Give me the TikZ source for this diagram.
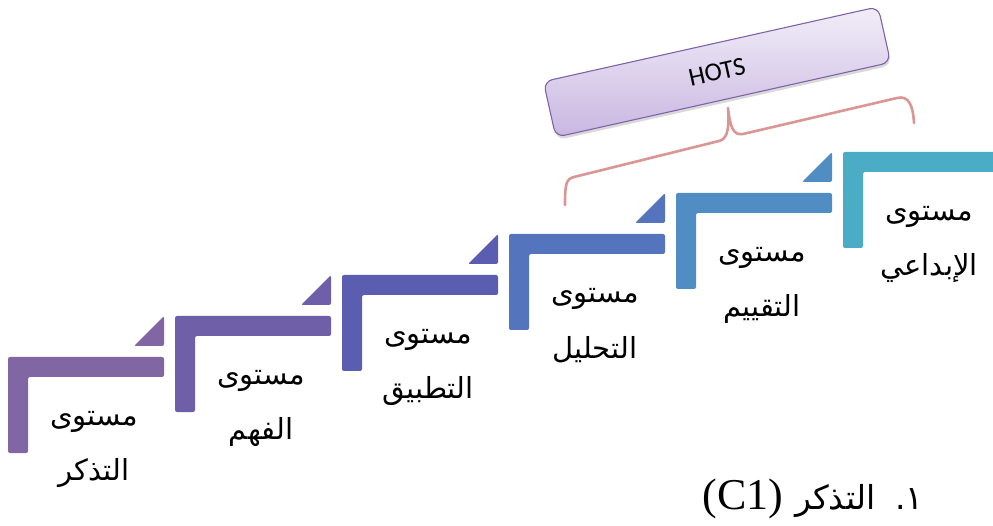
\documentclass[tikz,border=0pt]{standalone}
\usepackage{fontspec}
\TeXXeTstate=1
\newfontfamily\arabicfont[Script=Arabic]{DejaVu Sans}
\newfontfamily\hotsfont{Carlito}
\newfontfamily\latinserif{Liberation Serif}
\usetikzlibrary{shadows}
\definecolor{sA}{HTML}{8066A3}
\definecolor{sB}{HTML}{6E5FA8}
\definecolor{sC}{HTML}{5A5DB0}
\definecolor{sD}{HTML}{5574BE}
\definecolor{sE}{HTML}{4F8DC2}
\definecolor{sF}{HTML}{4BACC6}
\definecolor{hotstop}{HTML}{F2EEF8}
\definecolor{hotsbot}{HTML}{C9B6E1}
\definecolor{hotsline}{HTML}{7F63A8}
\definecolor{bracecol}{HTML}{D99694}
\tikzset{
  stepshape/.style={rounded corners=2pt},
  lbl/.style={inner sep=0pt, font=\arabicfont\fontsize{29}{32}\selectfont},
  hotsbox/.style={draw=hotsline, line width=1.1pt, rounded corners=9pt,
    minimum width=343pt, minimum height=57pt, top color=hotstop, bottom color=hotsbot,
    drop shadow={shadow xshift=1pt, shadow yshift=-3pt, opacity=0.3},
    font=\hotsfont\fontsize{26}{30}\selectfont},
  bracestyle/.style={draw=bracecol, line width=2.6pt, line cap=round, line join=round}
}
\begin{document}
\begin{tikzpicture}[x=1pt,y=-1pt]
\clip (0,0) rectangle (993,526);
\foreach \i/\col/\second in {0/sA/التذكر,1/sB/الفهم,2/sC/التطبيق,3/sD/التحليل,4/sE/التقييم,5/sF/الإبداعي}{
  \pgfmathsetmacro\xo{8+167*\i}
  \pgfmathsetmacro\yo{357-41*\i}
  \fill[stepshape, \col] (\xo,\yo) -- ({\xo+156},\yo) -- ({\xo+156},{\yo+20}) -- ({\xo+20},{\yo+20})
     -- ({\xo+20},{\yo+96}) -- (\xo,{\yo+96}) -- cycle;
  \ifnum\i<5
  \fill[stepshape, \col] ({\xo+126},{\yo-11}) -- ({\xo+156},{\yo-41}) -- ({\xo+156},{\yo-11}) -- cycle;
  \fi
  \node[lbl] (m\i) at ({\xo+86},{\yo+65}) {\beginR مستوى\endR};
  \node[lbl] (n\i) at ({\xo+86},{\yo+116}) {\beginR \second\endR};
}
\node[hotsbox, rotate=12.6] (hots) at (717,72) {HOTS};
\coordinate (bl) at (565,205);
\coordinate (bt) at (728,108);
\coordinate (br) at (914,123);
\draw[bracestyle] (bl) .. controls (565,184) and (566,179) .. (574,177) -- (719,141)
   .. controls (729,139) and (729,124) .. (bt)
   .. controls (730,126) and (733,136) .. (743,134) -- (897,98)
   .. controls (909,95) and (913,106) .. (br);
\node[inner sep=0pt] (cap) at (813,499) {\latinserif\fontsize{44}{46}\selectfont (C1)\hspace{12pt}{\arabicfont\fontsize{33}{36}\selectfont\beginR التذكر\endR\hspace{20pt}١.}};
\end{tikzpicture}
\end{document}
